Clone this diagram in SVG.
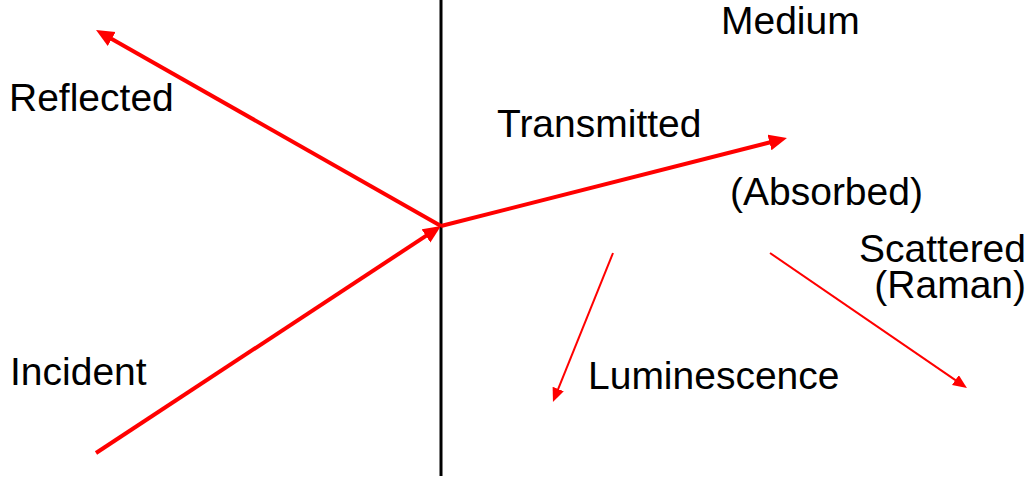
<svg xmlns="http://www.w3.org/2000/svg" width="1034" height="480" viewBox="0 0 1034 480">
  <style>
    text { font-family: "Liberation Sans", Arial, sans-serif; font-size: 39px; fill: #000; }
    .thick { stroke: #ff0000; stroke-width: 4; fill: none; }
    .thin { stroke: #ff0000; stroke-width: 2; fill: none; }
  </style>
  <defs>
    <marker id="headBig" markerUnits="userSpaceOnUse" markerWidth="20" markerHeight="18" refX="10" refY="8" orient="auto">
      <path d="M0,0 L18,8 L0,16 z" fill="#ff0000"/>
    </marker>
    <marker id="headSmall" markerUnits="userSpaceOnUse" markerWidth="16" markerHeight="14" refX="8" refY="6" orient="auto">
      <path d="M0,0 L14,6 L0,12 z" fill="#ff0000"/>
    </marker>
  </defs>
  <g id="interface">
    <line x1="441" y1="0" x2="441" y2="476" stroke="#000" stroke-width="3"/>
  </g>
  <g id="connectors">
    <line id="incident-ray" class="thick" x1="96" y1="453" x2="434.3" y2="230.4" marker-end="url(#headBig)"/>
    <line id="reflected-ray" class="thick" x1="441" y1="226" x2="103" y2="34" marker-end="url(#headBig)"/>
    <line id="transmitted-ray" class="thick" x1="441" y1="226" x2="779.2" y2="140" marker-end="url(#headBig)"/>
    <line id="luminescence-ray" class="thin" x1="613" y1="253" x2="555.2" y2="396.4" marker-end="url(#headSmall)"/>
    <line id="scattered-ray" class="thin" x1="770" y1="253" x2="962" y2="384.6" marker-end="url(#headSmall)"/>
  </g>
  <g id="medium"><text x="721" y="34">Medium</text></g>
  <g id="reflected"><text x="9" y="111">Reflected</text></g>
  <g id="transmitted"><text x="497" y="137">Transmitted</text></g>
  <g id="absorbed"><text x="730" y="205">(Absorbed)</text></g>
  <g id="scattered">
    <text x="1026" y="262" text-anchor="end">Scattered</text>
    <text x="1026" y="298" text-anchor="end">(Raman)</text>
  </g>
  <g id="incident"><text x="10" y="385">Incident</text></g>
  <g id="luminescence"><text x="588" y="389">Luminescence</text></g>
</svg>
